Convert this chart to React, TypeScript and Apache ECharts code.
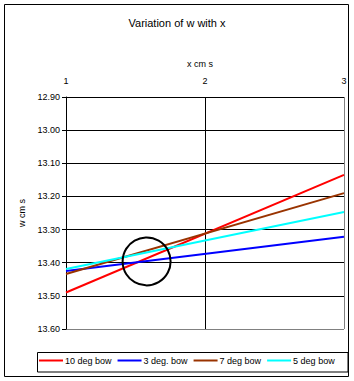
import React, { useEffect, useRef } from "react";
import * as echarts from "echarts";

const xTicks = [1, 2, 3];
const seriesNames = ["10 deg bow", "3 deg. bow", "7 deg bow", "5 deg bow"];
const seriesColors = ["#ff0000", "#0000ff", "#993300", "#00ffff"];
const xValues = [1, 3];
const red10 = [13.49, 13.135];
const blue3 = [13.425, 13.322];
const brown7 = [13.434, 13.19];
const cyan5 = [13.419, 13.247];
const circleCenter = [1.58, 13.396];

const FONT = "'Liberation Sans', Arial, sans-serif";

export default function App() {
  const ref = useRef<HTMLDivElement>(null);
  useEffect(() => {
    if (!ref.current) return;
    const chart = echarts.init(ref.current, null, { renderer: "svg" });
    const values = [red10, blue3, brown7, cyan5];
    const series = values.map((vals, i) => ({
      name: seriesNames[i],
      type: "line",
      data: xValues.map((x, j) => [x, vals[j]]),
      symbol: "none",
      lineStyle: { color: seriesColors[i], width: 2 },
      itemStyle: { color: seriesColors[i] },
      z: 3 + i,
    }));
    chart.setOption({
      animation: false,
      backgroundColor: "#ffffff",
      title: {
        text: "Variation of w with x",
        left: "center",
        top: 17,
        padding: 0,
        textStyle: { fontSize: 11, fontWeight: "normal", color: "#000", fontFamily: FONT },
      },
      grid: { left: 66, top: 97, width: 278, height: 232, containLabel: false },
      xAxis: {
        type: "value",
        position: "top",
        min: 1,
        max: 3,
        interval: 1,
        name: "x cm s",
        nameLocation: "middle",
        nameGap: 29,
        nameTextStyle: { fontSize: 9, color: "#000", fontFamily: FONT, padding: [0, 10, 0, 0] },
        axisLine: { show: false },
        axisTick: { show: false },
        axisLabel: {
          fontSize: 9,
          color: "#000",
          fontFamily: FONT,
          margin: 12,
          formatter: (v: number) => (xTicks.includes(v) ? String(v) : ""),
        },
        splitLine: {
          show: true,
          lineStyle: { color: ["#000000", "#000000", "#808080"], width: 1 },
        },
      },
      yAxis: {
        type: "value",
        inverse: true,
        min: 12.9,
        max: 13.6,
        interval: 0.1,
        name: "w cm s",
        nameLocation: "middle",
        nameGap: 39,
        nameRotate: 90,
        nameTextStyle: { fontSize: 9, color: "#000", fontFamily: FONT },
        axisLine: { show: true, lineStyle: { color: "#000", width: 1 } },
        axisTick: { show: true, length: 4, lineStyle: { color: "#000" } },
        axisLabel: {
          fontSize: 9,
          color: "#000",
          fontFamily: FONT,
          margin: 6,
          formatter: (v: number) => v.toFixed(2),
        },
        splitLine: {
          show: true,
          lineStyle: {
            color: ["#000", "#000", "#000", "#000", "#000", "#000", "#000", "#808080"],
            width: 1,
          },
        },
      },
      legend: {
        data: seriesNames,
        left: 39,
        top: 356,
        padding: 0,
        icon: "rect",
        itemWidth: 24,
        itemHeight: 2,
        itemGap: 6,
        textStyle: { fontSize: 9, color: "#000", fontFamily: FONT, padding: [0, 0, 0, -3] },
      },
      series,
    });
    const c = chart.convertToPixel({ gridIndex: 0 }, circleCenter) as number[];
    chart.setOption({
      graphic: [
        {
          type: "rect",
          shape: { x: 4.5, y: 4.5, width: 344, height: 372 },
          style: { fill: "none", stroke: "#000", lineWidth: 1 },
          silent: true,
        },
        {
          type: "rect",
          shape: { x: 37.5, y: 352.5, width: 310.5, height: 19.5 },
          style: { fill: "none", stroke: "#000", lineWidth: 1 },
          silent: true,
        },
        {
          type: "circle",
          shape: { cx: c[0], cy: c[1], r: 24 },
          style: { fill: "none", stroke: "#000", lineWidth: 2 },
          silent: true,
          z: 10,
        },
      ],
    });
    return () => chart.dispose();
  }, []);
  return (
    <div
      ref={ref}
      style={{ position: "fixed", left: 0, top: 0, width: 354, height: 381, background: "#fff" }}
    />
  );
}
